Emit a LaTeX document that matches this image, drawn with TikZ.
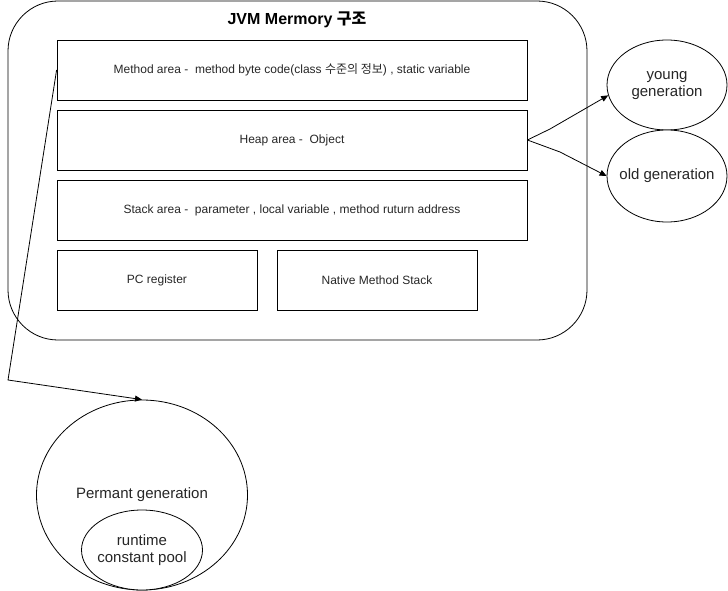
\documentclass[tikz,border=0pt]{standalone}
\usepackage{fontspec}
\setmainfont{Liberation Sans}
\newfontfamily\kr{Noto Sans CJK KR}
\usetikzlibrary{shapes.geometric,arrows.meta}
\begin{document}
\begin{tikzpicture}[x=1pt,y=-1pt,
  box/.style={draw,line width=0.8pt,inner sep=0pt,font=\fontsize{12}{14}\selectfont,text=black!85},
  ell/.style={draw,ellipse,line width=0.8pt,inner sep=0pt,fill=white},
  lbl/.style={font=\fontsize{15}{17}\selectfont,text=black!85,align=center,inner sep=0pt},
  conn/.style={line width=0.8pt,-{Triangle[length=7pt,width=6pt]}}]
\useasboundingbox (0,0) rectangle (728,591);
\draw[line width=0.8pt,rounded corners=50pt] (8,1) rectangle (587,340);
\node[font=\bfseries\fontsize{16}{18}\selectfont] (title) at (297,20) {JVM Mermory {\kr\bfseries 구조}};
\node[box,minimum width=470pt,minimum height=60pt] (method) at (292,70) {Method area -\ \ method byte code(class {\kr 수준의 정보}) , static variable};
\node[box,minimum width=470pt,minimum height=60pt] (heap) at (292,140) {Heap area -\ \ Object};
\node[box,minimum width=470pt,minimum height=60pt] (stack) at (292,210) {Stack area -\ \ parameter , local variable , method ruturn address};
\node[box,minimum width=200pt,minimum height=60pt] (pc) at (157,280) {PC register};
\node[box,minimum width=200pt,minimum height=60pt] (native) at (377,280) {Native Method Stack};
\node[ell,minimum width=120pt,minimum height=90pt] (young) at (667,85) {};
\node[lbl] (younglbl) at (667,86) {young\\generation};
\node[ell,minimum width=120pt,minimum height=92pt] (old) at (667,176) {};
\node[lbl] (oldlbl) at (old) {old generation};
\node[ell,minimum width=211pt,minimum height=190pt] (perm) at (142,495) {};
\node[lbl] (permlbl) at (142,495) {Permant generation};
\node[ell,minimum width=121pt,minimum height=80pt] (pool) at (142,550) {};
\node[lbl] (poollbl) at (pool) {runtime\\constant pool};
\coordinate (c1) at (8,380);
\draw[conn] (method.west) -- (c1) -- (perm.north);
\draw[conn] (heap.east) -- (550,129) -- (young.190);
\draw[conn] (heap.east) -- (560,152) -- (old.west);
\end{tikzpicture}
\end{document}
